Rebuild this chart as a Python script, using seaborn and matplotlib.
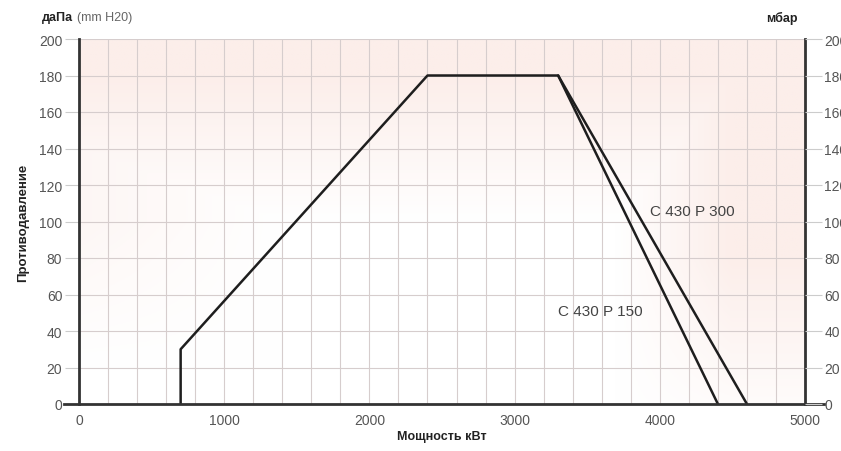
import numpy as np
import pandas as pd
import matplotlib
matplotlib.use("Agg")
import matplotlib.pyplot as plt
import seaborn as sns

# Data
p150_kw = [700, 700, 2400, 3300, 4400]
p150_pa = [0, 30, 180, 180, 0]
p300_kw = [3300, 4600]
p300_pa = [180, 0]
series_names = ["C 430 P 150", "C 430 P 300"]
x_ticks = [0, 1000, 2000, 3000, 4000, 5000]
y_ticks = [0, 20, 40, 60, 80, 100, 120, 140, 160, 180, 200]

df = pd.concat([
    pd.DataFrame({"kw": p150_kw, "pa": p150_pa, "s": series_names[0], "o": range(len(p150_kw))}),
    pd.DataFrame({"kw": p300_kw, "pa": p300_pa, "s": series_names[1], "o": range(len(p300_kw))}),
])

sns.set_theme(style="white")
plt.rcParams["font.family"] = ["Liberation Sans", "DejaVu Sans"]

fig = plt.figure(figsize=(8.41, 4.52), dpi=100)
ax = fig.add_axes([79/841, 47/452, 726/841, 365/452])

# background gradient
xs = np.linspace(0, 5000, 300)
ys = np.linspace(0, 200, 200)
X, Y = np.meshgrid(xs, ys)
t = np.clip((Y - 100) / 80, 0, 1)
r = np.clip((X - 3700) / 800, 0, 1) * np.clip((Y + 20) / 100, 0, 1)
left = np.clip((1400 - X) / 1400, 0, 1) * np.clip((Y - 20) / 80, 0, 1) * 0.5
w = np.maximum(np.maximum(t, r), left)
pink = np.array([252, 238, 234]) / 255
white = np.array([1, 1, 1])
img = white[None, None, :] * (1 - w[..., None]) + pink[None, None, :] * w[..., None]
ax.imshow(img, extent=[0, 5000, 0, 200], origin="lower", aspect="auto", zorder=0)

ax.set_xlim(0, 5000)
ax.set_ylim(0, 200)
ax.set_xticks(np.arange(0, 5001, 200), minor=True)
ax.set_xticks(x_ticks)
ax.set_yticks(y_ticks)
ax.grid(True, which="both", axis="x", color="#d6cdcd", lw=0.8, zorder=1)
ax.grid(True, which="major", axis="y", color="#d6cdcd", lw=0.8, zorder=1)
ax.set_axisbelow(True)

for name in series_names:
    sub = df[df["s"] == name]
    sns.lineplot(data=sub, x="kw", y="pa", sort=False, ax=ax, color="#1e1e1e",
                 lw=1.8, estimator=None, legend=False, zorder=3)

ax.text(3930, 106, "C 430 P 300", fontsize=11, color="#444444", va="center")
ax.text(3300, 51, "C 430 P 150", fontsize=11, color="#444444", va="center")

ax.spines["top"].set_visible(False)
for s in ["left", "right", "bottom"]:
    ax.spines[s].set_color("#333333")
    ax.spines[s].set_linewidth(2)
ax.spines["bottom"].set_bounds(-100, 5130)
ax.spines["bottom"].set_zorder(4)

ax.tick_params(axis="x", which="major", length=7, width=1, color="#888888", labelsize=10,
               labelcolor="#555555", pad=3, direction="inout")
ax.tick_params(axis="x", which="minor", length=0)
ax.tick_params(axis="y", which="major", length=10, width=0.8, color="#cccccc", labelsize=10,
               labelcolor="#555555", pad=2)
ax.set_xlabel("Мощность кВт", fontsize=9, fontweight="bold", color="#222222", labelpad=2)
ax.set_ylabel("Противодавление", fontsize=9.5, fontweight="bold", color="#222222", labelpad=7)

ax2 = ax.twinx()
ax2.set_ylim(0, 200)
ax2.set_yticks(y_ticks)
ax2.tick_params(axis="y", length=12, width=0.8, color="#cccccc", labelsize=10,
                labelcolor="#555555", pad=2)
for s in ax2.spines.values():
    s.set_visible(False)

fig.text(42/841, 1 - 18/452, "даПа", fontsize=9, fontweight="bold", color="#222222", va="center")
fig.text(77/841, 1 - 18/452, "(mm H20)", fontsize=9, color="#666666", va="center")
fig.text(782/841, 1 - 18/452, "мбар", fontsize=9, fontweight="bold", color="#222222", va="center", ha="center")

fig.savefig("out.png", dpi=100)
